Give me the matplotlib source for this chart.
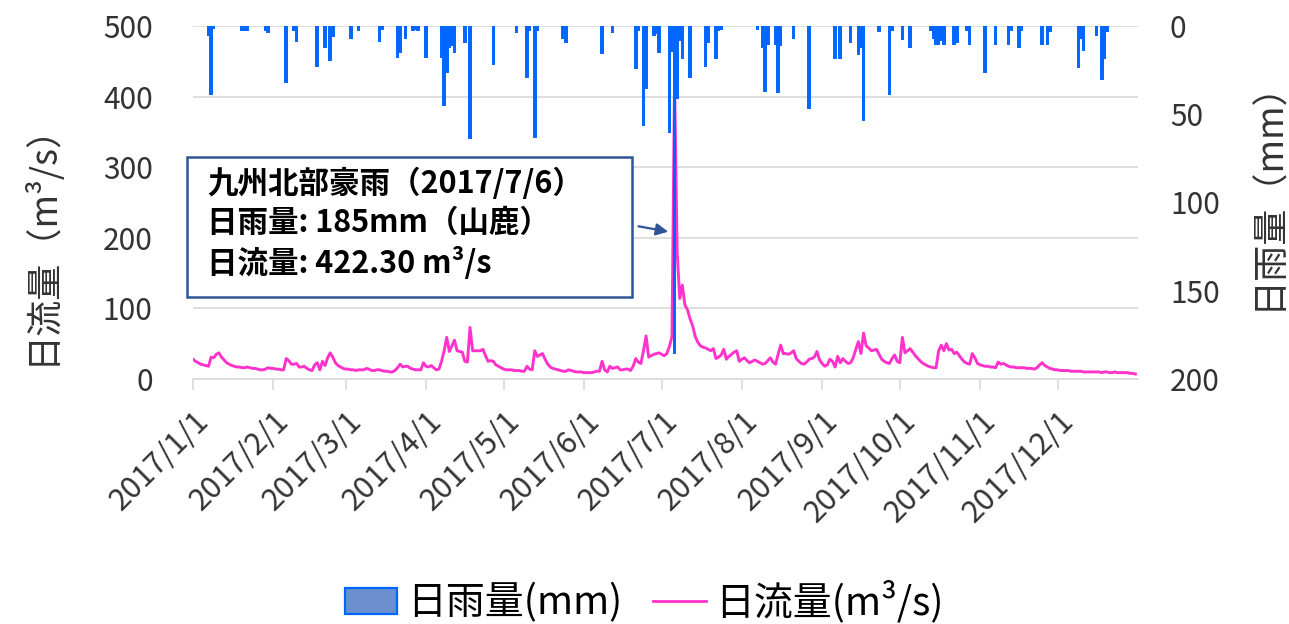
import numpy as np
import matplotlib
matplotlib.use('Agg')
import matplotlib.pyplot as plt
from matplotlib.patches import Patch, Rectangle
from matplotlib.lines import Line2D

plt.rcParams['font.family'] = ['Noto Sans CJK JP', 'DejaVu Sans']

# daily flow (m3/s), 2017/1/1 .. 2017/12/31
flow = [
    28, 25, 23, 21, 20, 19, 18, 31, 30, 35,
    37, 31, 27, 23, 21, 19, 18, 17, 17, 16,
    16, 17, 16, 15, 15, 14, 13, 13, 14, 16,
    15, 15, 14, 14, 13, 13, 29, 26, 21, 21,
    22, 17, 17, 18, 15, 13, 12, 20, 23, 13,
    25, 19, 30, 37, 31, 23, 19, 17, 15, 14,
    14, 13, 13, 12, 13, 13, 13, 15, 14, 12,
    12, 13, 13, 12, 11, 11, 10, 10, 12, 16,
    21, 17, 18, 18, 15, 14, 13, 13, 13, 23,
    18, 17, 19, 16, 13, 14, 25, 40, 59, 39,
    47, 55, 40, 39, 38, 25, 24, 73, 40, 40,
    40, 40, 42, 33, 25, 26, 25, 20, 18, 16,
    14, 13, 13, 13, 12, 12, 12, 11, 11, 18,
    14, 13, 40, 32, 34, 36, 28, 21, 17, 15,
    14, 13, 12, 11, 11, 13, 12, 11, 10, 10,
    10, 9, 9, 9, 9, 10, 11, 11, 25, 13,
    10, 18, 15, 16, 17, 13, 13, 14, 14, 12,
    18, 29, 24, 22, 40, 61, 31, 33, 35, 36,
    37, 35, 33, 36, 46, 60, 422.3, 180, 114, 133,
    105, 98, 85, 75, 60, 52, 47, 45, 44, 42,
    40, 43, 29, 31, 34, 42, 28, 32, 35, 38,
    40, 25, 28, 30, 26, 23, 25, 27, 25, 23,
    21, 22, 26, 30, 24, 21, 35, 48, 36, 36,
    35, 37, 40, 29, 25, 22, 21, 24, 28, 29,
    31, 39, 27, 22, 18, 20, 28, 25, 17, 32,
    23, 29, 25, 22, 23, 30, 42, 53, 36, 65,
    47, 44, 40, 41, 42, 35, 28, 25, 23, 22,
    29, 34, 25, 23, 59, 37, 40, 43, 38, 33,
    29, 25, 22, 20, 18, 17, 16, 16, 40, 48,
    40, 50, 41, 42, 36, 38, 33, 28, 24, 22,
    21, 36, 30, 22, 20, 19, 18, 18, 17, 17,
    16, 24, 21, 22, 20, 18, 17, 17, 16, 16,
    16, 16, 15, 15, 15, 14, 16, 20, 23, 19,
    17, 15, 14, 13, 13, 12, 12, 12, 12, 11,
    11, 11, 11, 11, 10, 10, 10, 10, 10, 10,
    10, 9, 10, 10, 9, 9, 10, 9, 9, 9,
    9, 9, 8, 8, 7,
]

# days with rain (day index from 2017/1/1) and daily rain (mm)
rain_days = [6, 7, 8, 19, 20, 21, 28, 29, 36, 39, 40, 48, 51, 53, 54, 61, 64,
             72, 73, 79, 80, 82, 85, 86, 87, 90, 96, 97, 98, 99, 100, 101, 105,
             107, 116, 125, 129, 130, 132, 133, 143, 144, 158, 162, 171, 172,
             174, 175, 178, 179, 180, 184, 185, 186, 187, 188, 189, 192, 198,
             199, 202, 203, 204, 218, 220, 221, 222, 225, 226, 227, 232, 238,
             248, 250, 254, 257, 258, 259, 265, 269, 270, 274, 277, 285, 286,
             287, 288, 289, 290, 294, 295, 299, 300, 306, 310, 315, 316, 319,
             320, 328, 330, 331, 342, 343, 344, 349, 351, 352, 353]
rain_mm = [5, 38.7, 1, 2, 2, 2.5, 2, 3.5, 31.5, 2, 8.5, 22.5, 11.7, 19.3, 5.5, 6.6, 2,
           8.5, 1.5, 17.4, 14.5, 6.6, 2.3, 1.5, 2, 17.4, 17.4, 44.8, 26, 11.7, 11, 14.5, 9.3,
           63.6, 21.7, 3.6, 28.7, 2, 62.7, 2, 7, 9, 15.5, 3.2, 23.6, 2,
           56, 35, 5, 4, 14.5, 60, 14, 185, 41, 8, 18, 29, 22.5,
           9, 18.3, 2, 1.5, 1.5, 12, 37, 10, 10, 37.6, 11, 6.6, 46.6,
           18.3, 18.3, 9, 16, 12, 53, 3, 38.7, 2, 7.6, 11.7, 2, 7,
           10, 10, 8, 10, 10, 9, 2, 10, 26, 10, 10, 2, 11.7,
           2, 10, 10, 3, 23, 7, 13.6, 5, 30, 18, 3]

month_starts = [0, 31, 59, 90, 120, 151, 181, 212, 243, 273, 304, 334]
month_labels = ['2017/%d/1' % m for m in range(1, 13)]

days = np.arange(len(flow))

fig = plt.figure(figsize=(12.89, 6.24), dpi=100)
ax = fig.add_axes([193 / 1289, 1 - 379 / 624, 945 / 1289, 353 / 624])
ax2 = ax.twinx()

ax.plot(days, flow, color='#FF33CC', lw=2.1, zorder=3)
ax2.bar(rain_days, rain_mm, width=0.6, color='#6B8FCF', edgecolor='#0066FF', lw=1.4)

tc = '#333333'
ax.set_xlim(0, 365)
ax.set_ylim(0, 500)
ax.set_yticks(range(0, 501, 100))
ax2.set_ylim(200, 0)
ax2.set_yticks(range(0, 201, 50))

ax.grid(axis='y', color='#D9D9D9', lw=1.2)
ax.set_axisbelow(True)
for s in ['top', 'left', 'right']:
    ax.spines[s].set_visible(False)
    ax2.spines[s].set_visible(False)
ax.spines['bottom'].set_color('#D9D9D9')
ax.spines['bottom'].set_linewidth(1.2)
ax2.spines['bottom'].set_visible(False)

ax.tick_params(axis='y', length=0, labelsize=21.5, labelcolor=tc, pad=29)
ax2.tick_params(axis='y', length=0, labelsize=21.5, labelcolor=tc, pad=23)
ax.set_xticks(month_starts)
ax.set_xticklabels(month_labels)
ax.tick_params(axis='x', length=8, width=1.2, color='#D9D9D9', labelsize=22,
               labelcolor=tc, pad=11)
for lbl in ax.get_xticklabels():
    lbl.set_rotation(45)
    lbl.set_ha('right')
    lbl.set_va('top')
    lbl.set_rotation_mode('anchor')

fig.text(40 / 1289, 1 - 235 / 624, '日流量（m³/s）', rotation=90, ha='center',
         va='center', fontsize=26, color=tc)
fig.text(1268 / 1289, 1 - 186 / 624, '日雨量（mm）', rotation=90, ha='center',
         va='center', fontsize=26, color=tc)

# annotation box
box = Rectangle((-6 / 945, 82 / 353), 445 / 945, 140 / 353, transform=ax2.transAxes,
                facecolor='white', edgecolor='#2F5597', lw=1.8, clip_on=False, zorder=10)
ax2.add_patch(box)
ax2.text(14 / 945, (379 - 168) / 353,
         '九州北部豪雨（2017/7/6）\n日雨量: 185mm（山鹿）\n日流量: 422.30 m³/s',
         transform=ax2.transAxes, ha='left', va='top', fontsize=22,
         fontweight='bold', color='black', linespacing=1.28, zorder=11)
ax2.annotate('', xy=(184.6, 208), xytext=(171.0, 217),
             xycoords=ax.transData, textcoords=ax.transData,
             arrowprops=dict(arrowstyle='-|>', color='#2F5597', lw=1.6,
                             mutation_scale=18), zorder=11)

handles = [Patch(facecolor='#6B8FCF', edgecolor='#0066FF', lw=1.6),
           Line2D([], [], color='#FF33CC', lw=2.0)]
fig.legend(handles, ['日雨量(mm)', '日流量(m³/s)'], loc='center',
           bbox_to_anchor=(0.5, 0.035), ncol=2, frameon=False, fontsize=28,
           handlelength=1.34, handleheight=0.65, handletextpad=0.25,
           columnspacing=0.8, labelcolor='black')

fig.savefig('out.png', dpi=100)
